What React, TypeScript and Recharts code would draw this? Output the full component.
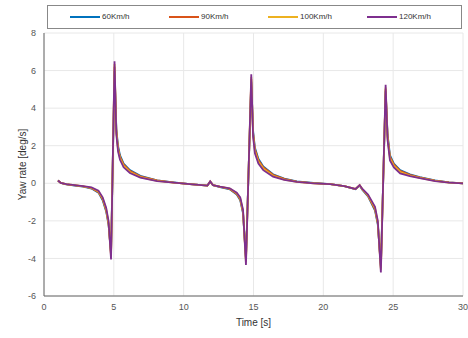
import { LineChart, Line, XAxis, YAxis, CartesianGrid } from "recharts";

// shared time samples [s]
const times = [
  1.0, 1.2, 1.6, 2.2, 2.8, 3.4, 3.9, 4.2, 4.45, 4.62, 4.8,
  5.05, 5.18, 5.3, 5.44, 5.7, 6.15, 6.9, 8.1, 9.3, 10.45, 11.3,
  11.7, 11.9, 12.1, 12.6, 13.3, 13.8, 14.05, 14.25, 14.46,
  14.84, 14.97, 15.1, 15.35, 15.7, 16.4, 17.2, 18.1, 19.3, 20.5, 21.5, 22.3,
  22.6, 22.8, 23.2, 23.7, 23.9, 24.12,
  24.46, 24.6, 24.77, 25.05, 25.5, 26.2, 26.9, 28.0, 29.0, 30.0,
];

const yaw60 = [
  0.15, 0.02, -0.06, -0.12, -0.18, -0.28, -0.5, -0.9, -1.5, -2.2, -3.7,
  6.0, 2.9, 2.0, 1.5, 1.05, 0.7, 0.4, 0.16, 0.05, -0.04, -0.1,
  -0.12, 0.08, -0.1, -0.2, -0.32, -0.6, -0.9, -1.6, -4.0,
  5.4, 2.8, 1.9, 1.3, 0.9, 0.48, 0.25, 0.1, 0.02, -0.04, -0.15, -0.32,
  -0.12, -0.35, -0.7, -1.45, -2.2, -4.4,
  4.9, 2.6, 1.5, 1.05, 0.7, 0.48, 0.33, 0.15, 0.05, 0.0,
];

const yaw90 = [
  0.15, 0.02, -0.06, -0.11, -0.17, -0.26, -0.47, -0.85, -1.45, -2.15, -3.8,
  6.2, 2.8, 1.9, 1.42, 1.0, 0.66, 0.37, 0.15, 0.04, -0.04, -0.1,
  -0.12, 0.09, -0.1, -0.19, -0.3, -0.57, -0.86, -1.55, -4.1,
  5.55, 2.7, 1.82, 1.24, 0.85, 0.45, 0.23, 0.09, 0.01, -0.05, -0.15, -0.31,
  -0.11, -0.33, -0.67, -1.4, -2.15, -4.5,
  5.0, 2.5, 1.42, 1.0, 0.66, 0.45, 0.31, 0.14, 0.05, 0.0,
];

const yaw100 = [
  0.15, 0.02, -0.05, -0.1, -0.16, -0.24, -0.44, -0.8, -1.38, -2.1, -3.9,
  6.35, 2.7, 1.8, 1.34, 0.93, 0.6, 0.33, 0.13, 0.03, -0.05, -0.1,
  -0.12, 0.09, -0.1, -0.18, -0.28, -0.53, -0.8, -1.48, -4.2,
  5.65, 2.6, 1.71, 1.15, 0.78, 0.4, 0.2, 0.08, 0.0, -0.05, -0.15, -0.3,
  -0.1, -0.32, -0.64, -1.32, -2.08, -4.6,
  5.1, 2.4, 1.32, 0.92, 0.6, 0.41, 0.29, 0.13, 0.04, 0.0,
];

const yaw120 = [
  0.15, 0.02, -0.05, -0.1, -0.15, -0.22, -0.4, -0.75, -1.3, -2.0, -4.05,
  6.5, 2.6, 1.7, 1.25, 0.85, 0.55, 0.3, 0.12, 0.03, -0.05, -0.1,
  -0.12, 0.1, -0.1, -0.18, -0.27, -0.5, -0.75, -1.4, -4.35,
  5.8, 2.5, 1.6, 1.05, 0.7, 0.35, 0.18, 0.07, 0.0, -0.05, -0.15, -0.3,
  -0.1, -0.3, -0.6, -1.25, -2.0, -4.75,
  5.25, 2.3, 1.22, 0.85, 0.53, 0.38, 0.27, 0.12, 0.04, 0.0,
];

const series = [
  { key: "v60", name: "60Km/h", color: "#0072BD", values: yaw60 },
  { key: "v90", name: "90Km/h", color: "#D95319", values: yaw90 },
  { key: "v100", name: "100Km/h", color: "#EDB120", values: yaw100 },
  { key: "v120", name: "120Km/h", color: "#7E2F8E", values: yaw120 },
];

const xTicks = [0, 5, 10, 15, 20, 25, 30];
const yTicks = [-6, -4, -2, 0, 2, 4, 6, 8];

const data = times.map((t, i) => {
  const row: Record<string, number> = { t };
  series.forEach((s) => (row[s.key] = s.values[i]));
  return row;
});

const font = "'Liberation Sans', Arial, sans-serif";
const tickStyle = { fontSize: 9, fill: "#555", fontFamily: font };

export default function App() {
  return (
    <div style={{ position: "absolute", left: 0, top: 0, width: 468, height: 338, background: "#fff" }}>
      <LineChart width={468} height={338} data={data} margin={{ top: 33, right: 5, bottom: 0, left: 10 }}>
        <CartesianGrid stroke="#e8e8e8" />
        <XAxis
          dataKey="t"
          type="number"
          domain={[0, 30]}
          ticks={xTicks}
          height={42}
          tickLine={false}
          axisLine={{ stroke: "#666" }}
          tick={tickStyle}
          label={{ value: "Time [s]", position: "center", dy: 5, fontSize: 10, fill: "#333", fontFamily: font }}
        />
        <XAxis xAxisId="top" orientation="top" type="number" domain={[0, 30]} ticks={xTicks} height={0} tick={false} tickLine={false} axisLine={{ stroke: "#666" }} />
        <YAxis
          type="number"
          domain={[-6, 8]}
          ticks={yTicks}
          width={34}
          tickLine={false}
          axisLine={{ stroke: "#666" }}
          tick={tickStyle}
          label={{ value: "Yaw rate [deg/s]", angle: -90, position: "center", dx: -5, fontSize: 10, fill: "#333", fontFamily: font }}
        />
        <YAxis yAxisId="right" orientation="right" type="number" domain={[-6, 8]} ticks={yTicks} width={0} tick={false} tickLine={false} axisLine={{ stroke: "#666" }} />
        {series.map((s) => (
          <Line
            key={s.key}
            dataKey={s.key}
            name={s.name}
            stroke={s.color}
            strokeWidth={1.8}
            dot={false}
            type="linear"
            isAnimationActive={false}
          />
        ))}
      </LineChart>
      <div
        style={{
          position: "absolute",
          left: 47,
          top: 5,
          width: 413,
          height: 22,
          border: "1px solid #888",
          background: "#fff",
          fontFamily: font,
          fontSize: 8,
          color: "#333",
        }}
      >
        {series.map((s, i) => (
          <div key={s.key} style={{ position: "absolute", left: 22 + i * 99, top: 6, display: "flex", alignItems: "center" }}>
            <span style={{ display: "inline-block", width: 30, height: 2, background: s.color, marginRight: 2 }} />
            <span>{s.name}</span>
          </div>
        ))}
      </div>
    </div>
  );
}
